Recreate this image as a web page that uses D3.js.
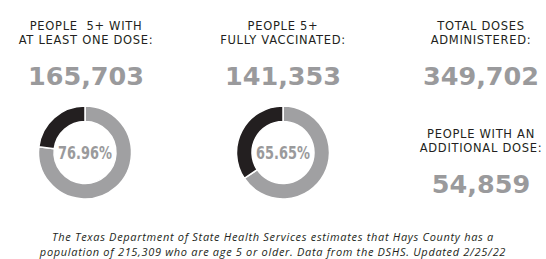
<!DOCTYPE html>
<meta charset="utf-8">
<style>
body { margin: 0; background: #fff; }
.label { font-family: "DejaVu Sans", sans-serif; font-size: 11.5px; letter-spacing: 0.7px; fill: #231f20; text-anchor: middle; }
.big { font-family: "DejaVu Sans", sans-serif; font-weight: bold; font-size: 25.5px; fill: #9a9a9c; text-anchor: middle; }
.pct { font-family: "DejaVu Sans", sans-serif; font-weight: bold; font-size: 17.5px; fill: #9a9a9c; text-anchor: middle; }
.note { font-family: "Open Sans", Lato, sans-serif; font-style: italic; font-size: 11px; letter-spacing: 0.68px; fill: #231f20; text-anchor: middle; }
</style>
<svg width="546" height="259"></svg>
<script src="https://d3js.org/d3.v7.min.js"></script>
<script>
// stat blocks
var statTitles = [
  ["PEOPLE  5+ WITH", "AT LEAST ONE DOSE:"],
  ["PEOPLE 5+", "FULLY VACCINATED:"],
  ["TOTAL DOSES", "ADMINISTERED:"],
  ["PEOPLE WITH AN", "ADDITIONAL DOSE:"]
];
var statValues = [165703, 141353, 349702, 54859];
// donut percentages (first two stats)
var donutPcts = [76.96, 65.65];
var noteLines = [
  "The Texas Department of State Health Services estimates that Hays County has a",
  "population of 215,309 who are age 5 or older. Data from the DSHS. Updated 2/25/22"
];

var svg = d3.select("svg"),
    width = +svg.attr("width"),
    height = +svg.attr("height");

// block layout: centre x and first baseline of each block
var blockX = [86, 283, 481, 481],
    blockY = [30, 30, 30, 137.5];

var fmt = d3.format(",");

var block = svg.selectAll("g.block")
    .data(statValues)
  .enter().append("g")
    .attr("class", "block")
    .attr("transform", function(d, i) { return "translate(" + blockX[i] + "," + blockY[i] + ")"; });

block.each(function(d, i) {
  var g = d3.select(this);
  g.selectAll("text.label")
      .data(statTitles[i])
    .enter().append("text")
      .attr("class", "label")
      .attr("y", function(t, j) { return j * 14; })
      .style("white-space", "pre")
      .text(function(t) { return t; });
  g.append("text")
      .attr("class", "big")
      .attr("y", 55)
      .text(fmt(d));
});

// donuts
var pie = d3.pie().sort(null).value(function(d) { return d; });
var arc = d3.arc().innerRadius(31).outerRadius(46.5);
var colors = ["#a0a0a2", "#231f20"];

var donut = svg.selectAll("g.donut")
    .data(donutPcts)
  .enter().append("g")
    .attr("class", "donut")
    .attr("transform", function(d, i) { return "translate(" + [85, 283][i] + ",152.5)"; });

donut.selectAll("path")
    .data(function(d) { return pie([d, 100 - d]); })
  .enter().append("path")
    .attr("d", arc)
    .attr("fill", function(d, i) { return colors[i]; })
    .attr("stroke", "#fff")
    .attr("stroke-width", 1.5);

// condensed look: squeeze horizontally
donut.append("text")
    .attr("class", "pct")
    .attr("transform", "scale(0.74,1)")
    .attr("y", 6.5)
    .text(function(d) { return d.toFixed(2) + "%"; });

// footnote
svg.selectAll("text.note")
    .data(noteLines)
  .enter().append("text")
    .attr("class", "note")
    .attr("x", width / 2)
    .attr("y", function(d, i) { return 240.5 + i * 15; })
    .text(function(d) { return d; });
</script>
